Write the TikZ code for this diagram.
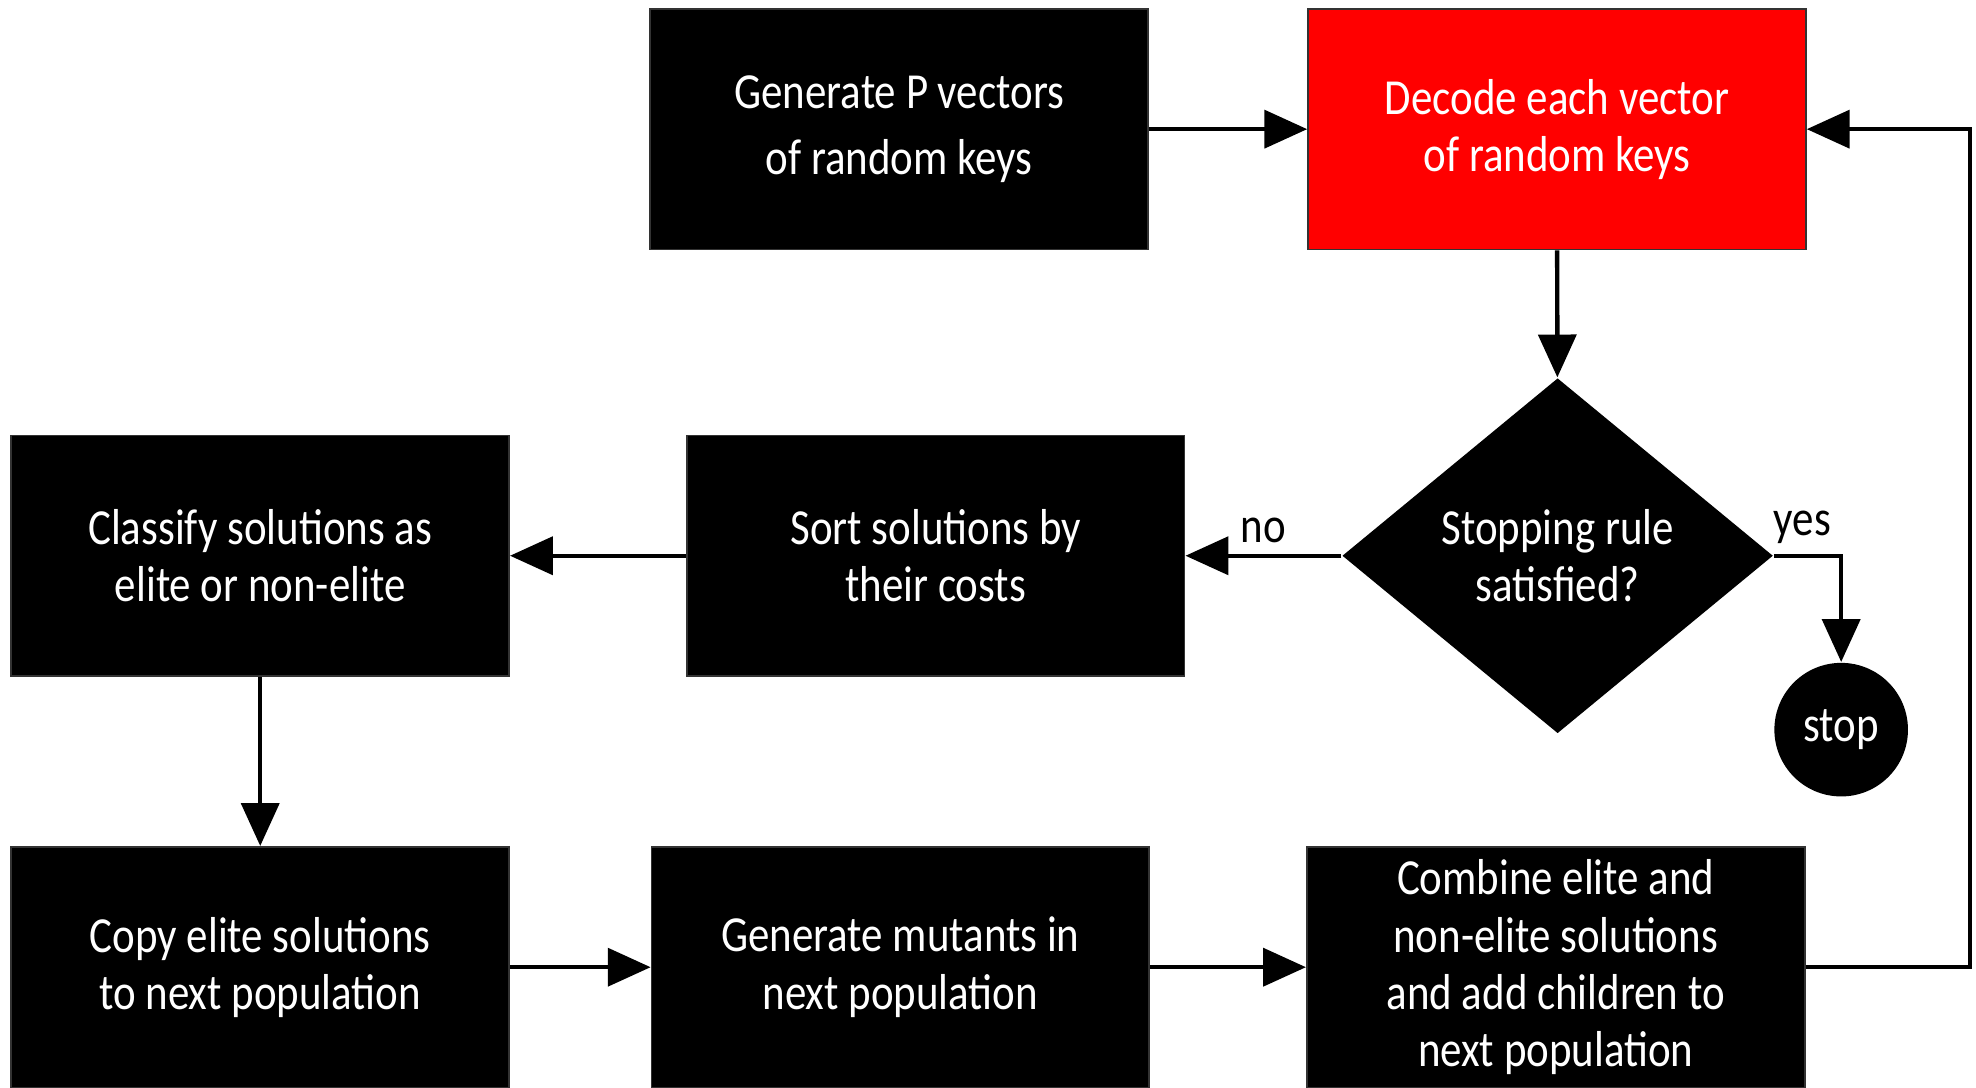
\documentclass[tikz,border=0pt]{standalone}
\usepackage{fontspec}
\setmainfont{Carlito}[FakeStretch=0.85]
\usepackage{tikz}
\usetikzlibrary{arrows.meta,shapes.geometric}
\definecolor{decodered}{HTML}{FF0000}

\begin{document}
\begin{tikzpicture}[
    font=\fontsize{11.4}{12.9}\selectfont,
    box/.style={draw=black!80,fill=black,text=white,align=center,
      minimum width=3.95cm,minimum height=1.91cm,inner sep=0pt,
      execute at begin node={\rule{0pt}{11pt}}},
    flow/.style={-{Triangle[length=0.34cm,width=0.30cm]},line width=1pt}
  ]
  \useasboundingbox (0,0) rectangle (15.68,8.63);
  % top row
  \node[box] (gen) at (7.135,7.605) {Generate P vectors\\[0.07cm] of random keys};
  \node[box,fill=decodered] (decode) at (12.355,7.605) {Decode each vector\\ of random keys};
  % middle row
  \node[diamond,fill=black,text=white,align=center,inner sep=0pt,
    minimum width=3.42cm,minimum height=2.82cm] (check) at (12.36,4.22)
    {Stopping rule\\ satisfied?};
  \node[circle,fill=black,text=white,minimum size=1.06cm,inner sep=0pt] (stop) at (14.61,2.84) {stop};
  \node[box] (sort) at (7.425,4.22) {Sort solutions by\\ their costs};
  \node[box] (classify) at (2.065,4.22) {Classify solutions as\\ elite or non-elite};
  % bottom row
  \node[box] (copy) at (2.065,0.955) {Copy elite solutions\\ to next population};
  \node[box] (mutants) at (7.145,0.955) {Generate mutants in\\ next population};
  \node[box] (combine) at (12.345,0.955) {Combine elite and\\ non-elite solutions\\ and add children to\\ next population};
  \coordinate (loop) at (15.63,0.955);

  \draw[flow] (gen) -- (decode);
  \draw[flow] (decode) -- (check);
  \draw[flow] (check.west) -- node[above,yshift=-1pt] {no} (sort.east);
  \draw[flow] (check.east) -| node[above,yshift=-1pt,pos=0.21] {yes} (stop.north);
  \draw[flow] (sort) -- (classify);
  \draw[flow] (classify) -- (copy);
  \draw[flow] (copy) -- (mutants);
  \draw[flow] (mutants) -- (combine);
  \draw[flow] (combine.east) -- (loop) |- (decode.east);
\end{tikzpicture}
\end{document}
